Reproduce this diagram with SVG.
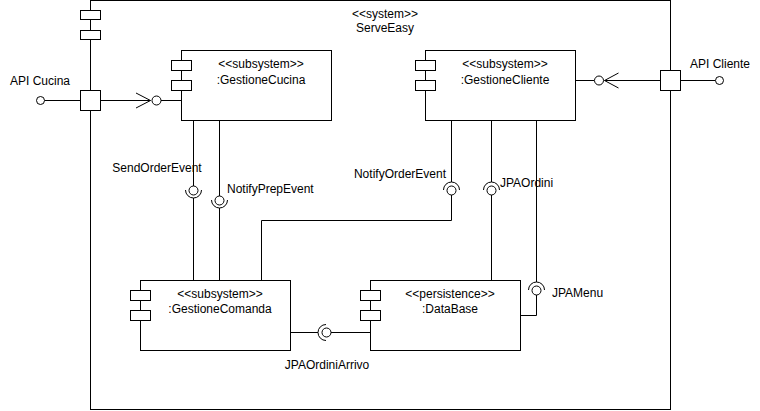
<svg xmlns="http://www.w3.org/2000/svg" width="760" height="411" viewBox="0 0 760 411">
<style>
  .box { fill: #ffffff; stroke: #000000; stroke-width: 1; }
  .ln { fill: none; stroke: #000000; stroke-width: 1; }
  .ball { fill: #ffffff; stroke: #000000; stroke-width: 1; }
  text { font-family: "Liberation Sans", Arial, Helvetica, sans-serif; font-size: 12px; fill: #000000; }
  .c { text-anchor: middle; }
  .e { text-anchor: end; }
</style>
<rect x="0" y="0" width="760" height="411" fill="#ffffff"/>

<g id="system-ServeEasy">
  <rect class="box" x="90.5" y="0.5" width="580" height="409"/>
  <rect class="box" x="80.5" y="10.5" width="20" height="9"/>
  <rect class="box" x="80.5" y="30.5" width="20" height="9"/>
  <text class="c" x="385" y="18">&lt;&lt;system&gt;&gt;</text>
  <text class="c" x="385" y="32">ServeEasy</text>
</g>

<g id="connectors">
  <!-- API Cucina -->
  <line class="ln" x1="44.5" y1="100.5" x2="80.5" y2="100.5"/>
  <line class="ln" x1="100.5" y1="100.5" x2="150.5" y2="100.5"/>
  <polyline class="ln" points="136,93 150.5,100.5 136,108"/>
  <line class="ln" x1="161" y1="100.5" x2="181.5" y2="100.5"/>
  <!-- API Cliente -->
  <line class="ln" x1="680.5" y1="80.5" x2="715.5" y2="80.5"/>
  <line class="ln" x1="604.5" y1="80.5" x2="660.5" y2="80.5"/>
  <polyline class="ln" points="618.5,73 604.5,80.5 618.5,88"/>
  <line class="ln" x1="575.5" y1="80.5" x2="594" y2="80.5"/>

  <!-- SendOrderEvent -->
  <line class="ln" x1="193.5" y1="120.5" x2="193.5" y2="186"/>
  <path class="ln" d="M185.5 190 A8 8 0 0 0 201.5 190"/>
  <line class="ln" x1="193.5" y1="198" x2="193.5" y2="280.5"/>
  <!-- NotifyPrepEvent -->
  <line class="ln" x1="219.5" y1="120.5" x2="219.5" y2="196"/>
  <path class="ln" d="M211.5 200 A8 8 0 0 0 227.5 200"/>
  <line class="ln" x1="219.5" y1="208" x2="219.5" y2="280.5"/>
  <!-- NotifyOrderEvent -->
  <line class="ln" x1="451.5" y1="120.5" x2="451.5" y2="182"/>
  <path class="ln" d="M443.5 190 A8 8 0 0 1 459.5 190"/>
  <polyline class="ln" points="451.5,195 451.5,220.5 261.5,220.5 261.5,280.5"/>
  <!-- JPAOrdini -->
  <line class="ln" x1="491.5" y1="120.5" x2="491.5" y2="182"/>
  <path class="ln" d="M483.5 190 A8 8 0 0 1 499.5 190"/>
  <line class="ln" x1="491.5" y1="195" x2="491.5" y2="280.5"/>
  <!-- JPAMenu -->
  <line class="ln" x1="536.5" y1="120.5" x2="536.5" y2="282"/>
  <path class="ln" d="M528.5 290 A8 8 0 0 1 544.5 290"/>
  <polyline class="ln" points="536.5,295 536.5,315.5 520.5,315.5"/>
  <!-- JPAOrdiniArrivo -->
  <line class="ln" x1="290.5" y1="332.5" x2="318" y2="332.5"/>
  <path class="ln" d="M326 324.5 A8 8 0 0 0 326 340.5"/>
  <line class="ln" x1="331" y1="332.5" x2="370.5" y2="332.5"/>

  <!-- balls -->
  <circle class="ball" cx="40.5" cy="100.5" r="4"/>
  <circle class="ball" cx="156.5" cy="100.5" r="4.5"/>
  <circle class="ball" cx="719.5" cy="80.5" r="4"/>
  <circle class="ball" cx="599" cy="80.5" r="4.5"/>
  <circle class="ball" cx="193.5" cy="190.5" r="4.5"/>
  <circle class="ball" cx="219.5" cy="200.5" r="4.5"/>
  <circle class="ball" cx="451.5" cy="190.5" r="4.5"/>
  <circle class="ball" cx="491.5" cy="190.5" r="4.5"/>
  <circle class="ball" cx="536.5" cy="290.5" r="4.5"/>
  <circle class="ball" cx="326.5" cy="332.5" r="4.5"/>

  <!-- labels -->
  <text class="c" x="40" y="85">API Cucina</text>
  <text class="c" x="720" y="68">API Cliente</text>
  <text class="c" x="157" y="172">SendOrderEvent</text>
  <text x="227" y="193">NotifyPrepEvent</text>
  <text class="e" x="446" y="178">NotifyOrderEvent</text>
  <text x="500" y="187">JPAOrdini</text>
  <text x="552" y="297">JPAMenu</text>
  <text class="c" x="327" y="369">JPAOrdiniArrivo</text>
</g>

<g id="port-APICucina">
  <rect class="box" x="80.5" y="90.5" width="20" height="20"/>
</g>
<g id="port-APICliente">
  <rect class="box" x="660.5" y="70.5" width="20" height="20"/>
</g>

<g id="node-GestioneCucina">
  <rect class="box" x="181.5" y="50.5" width="150" height="70"/>
  <rect class="box" x="171.5" y="60.5" width="20" height="10"/>
  <rect class="box" x="171.5" y="80.5" width="20" height="10"/>
  <text class="c" x="261" y="68">&lt;&lt;subsystem&gt;&gt;</text>
  <text class="c" x="261" y="84">:GestioneCucina</text>
</g>

<g id="node-GestioneCliente">
  <rect class="box" x="425.5" y="50.5" width="150" height="70"/>
  <rect class="box" x="415.5" y="60.5" width="20" height="10"/>
  <rect class="box" x="415.5" y="80.5" width="20" height="10"/>
  <text class="c" x="505" y="68">&lt;&lt;subsystem&gt;&gt;</text>
  <text class="c" x="505" y="84">:GestioneCliente</text>
</g>

<g id="node-GestioneComanda">
  <rect class="box" x="140.5" y="280.5" width="150" height="70"/>
  <rect class="box" x="130.5" y="290.5" width="20" height="10"/>
  <rect class="box" x="130.5" y="310.5" width="20" height="10"/>
  <text class="c" x="220" y="298">&lt;&lt;subsystem&gt;&gt;</text>
  <text class="c" x="220" y="313">:GestioneComanda</text>
</g>

<g id="node-DataBase">
  <rect class="box" x="370.5" y="280.5" width="150" height="70"/>
  <rect class="box" x="360.5" y="290.5" width="20" height="10"/>
  <rect class="box" x="360.5" y="310.5" width="20" height="10"/>
  <text class="c" x="450" y="298">&lt;&lt;persistence&gt;&gt;</text>
  <text class="c" x="450" y="313">:DataBase</text>
</g>
</svg>
